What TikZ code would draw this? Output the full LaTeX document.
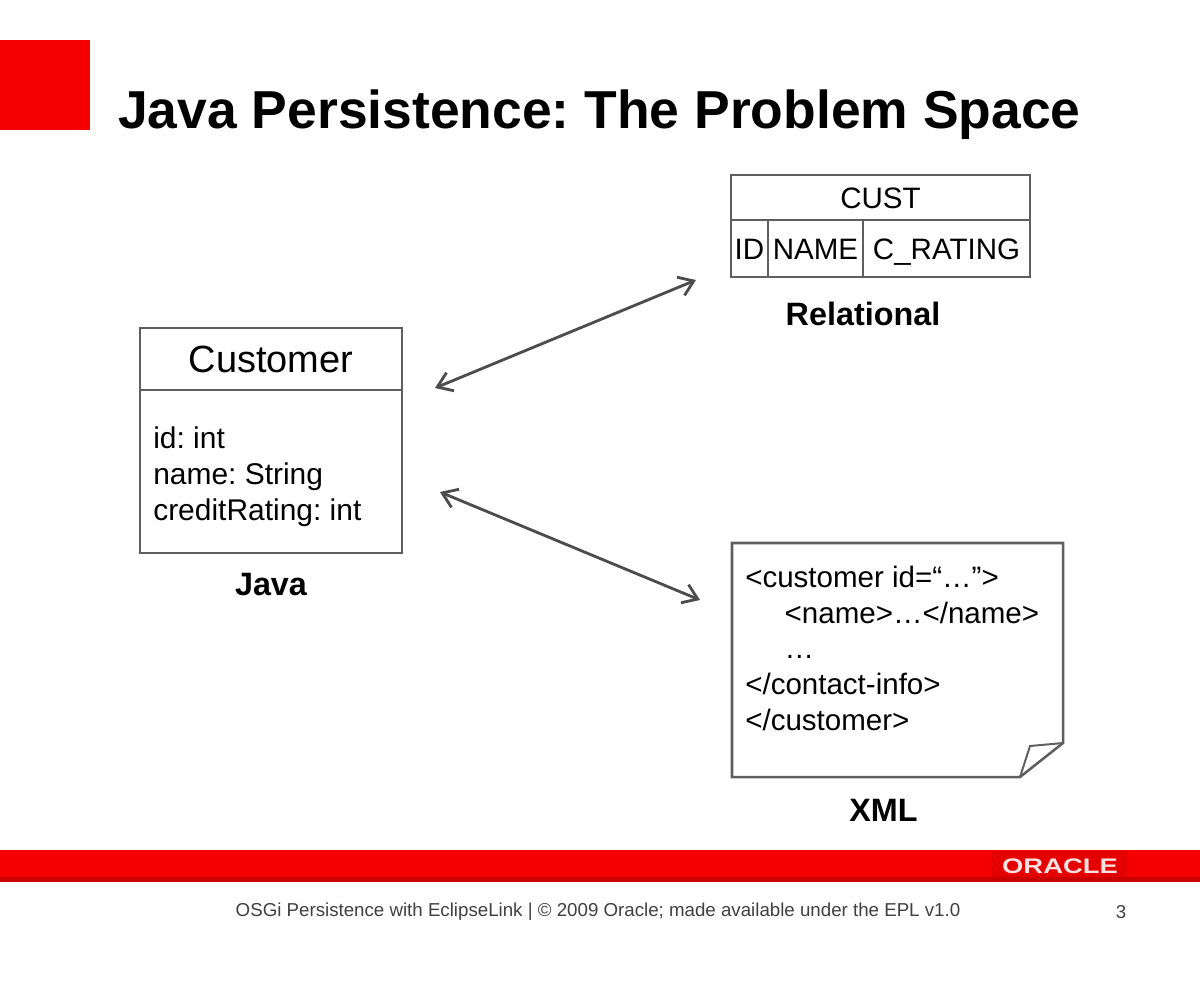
\documentclass[tikz,border=0pt]{standalone}
\usepackage{fontspec}
\setmainfont{Liberation Sans}
\usepackage{tikz}
\usetikzlibrary{calc,shapes,arrows,arrows.meta,positioning}
\newcommand{\px}{0.025cm}
\definecolor{slidered}{RGB}{245,0,0}
\definecolor{bardark}{RGB}{200,0,0}
\definecolor{boxgray}{RGB}{95,95,95}
\frenchspacing

\begin{document}
\begin{tikzpicture}[
  x=\px, y=-\px,
  boxline/.style={draw=boxgray,line width=1.8pt,outer sep=0pt},
  umlhead/.style={boxline,rectangle,anchor=north west,inner sep=0pt,
    minimum width=262*\px,minimum height=62*\px,font=\fontsize{27}{30}\selectfont},
  umlbody/.style={boxline,rectangle,anchor=north,inner sep=0pt,
    minimum width=262*\px,minimum height=163*\px},
  attrtext/.style={anchor=north west,inner sep=0pt,align=left,
    font=\fontsize{21.3}{25.6}\selectfont},
  tblhead/.style={boxline,rectangle,anchor=north west,inner sep=0pt,
    minimum width=299*\px,minimum height=45*\px,
    font=\fontsize{21}{24}\selectfont,text height=15pt,text depth=0pt},
  cell/.style={boxline,rectangle,anchor=north west,inner sep=0pt,
    minimum height=57*\px,
    font=\fontsize{21}{24}\selectfont,text height=15pt,text depth=0pt},
  caption/.style={font=\bfseries\fontsize{23}{26}\selectfont},
  duplex/.style={draw=black!70,line width=2pt,
    {Straight Barb[length=10pt,width=14pt]}-{Straight Barb[length=10pt,width=14pt]}}
]
\useasboundingbox[fill=white] (0,0) rectangle (1200,981);

% title
\fill[slidered] (0,40) rectangle (90,130);
\node[anchor=base west,inner sep=0pt,font=\bfseries\fontsize{38}{44}\selectfont]
  (title) at (118,128) {Java Persistence: The Problem Space};

% java class
\node[umlhead] (custhead) at (140,328) {Customer};
\node[umlbody] (custbody) at (custhead.south) {};
\node[attrtext] (attrs) at ($(custbody.north west)+(13,37)$)
  {id: int\\name: String\\creditRating: int};
\node[caption, below=11pt of custbody] (javalbl) {Java};

% relational table
\node[tblhead] (custtbl) at (731,175) {CUST};
\node[cell, minimum width=37*\px] (idcol) at (custtbl.south west) {ID};
\node[cell, minimum width=95*\px] (namecol) at (idcol.north east) {NAME};
\node[cell, minimum width=167*\px] (ratingcol) at (namecol.north east) {C\_RATING};
\node[caption, below=14.5pt of namecol.south east] (rellbl) {Relational};

% xml document
\node[anchor=north west,inner sep=0pt,outer sep=0pt,minimum width=331*\px,minimum height=234*\px]
  (xmldoc) at (732,543) {};
\draw[boxline,line join=miter] (xmldoc.north west) -- (xmldoc.north east)
  -- ($(xmldoc.south east)+(0,-34)$) -- ($(xmldoc.south east)+(-43,0)$)
  -- (xmldoc.south west) -- cycle;
\draw[boxline,line width=1.4pt,line join=miter] ($(xmldoc.south east)+(-43,0)$)
  -- ($(xmldoc.south east)+(-33,-31)$) -- ($(xmldoc.south east)+(0,-34)$);
\node[attrtext,font=\fontsize{21}{25.5}\selectfont] (xmlcode)
  at ($(xmldoc.north west)+(13,22.5)$)
  {<customer id=“…”>\\
   \hspace*{28pt}<name>…</name>\\
   \hspace*{28pt}…\\
   </contact-info>\\
   </customer>};
\node[caption, below=12pt of xmldoc, xshift=-14*\px] (xmllbl) {XML};

% mappings
\coordinate (relA) at ($(custbody.north east)+(33,-2)$);
\coordinate (relB) at ($(idcol.south west)+(-35,3)$);
\coordinate (xmlA) at ($(custbody.east)+(38,20.5)$);
\coordinate (xmlB) at ($(xmldoc.north west)+(-32,57)$);
\draw[duplex] (relA) -- (relB);
\draw[duplex] (xmlA) -- (xmlB);

% footer
\fill[slidered] (0,850) rectangle (1200,882);
\fill[bardark] (0,877) rectangle (1200,882);
\fill[red!90!black] (992,851) rectangle (1127,877);
\node[font=\bfseries\fontsize{15}{15}\selectfont,text=red!12] (oracle)
  at (1060,866) {\scalebox{1.3}[1]{ORACLE}};
\node[font=\fontsize{13.3}{15}\selectfont,text=black!75] (footer) at (598,912)
  {OSGi Persistence with EclipseLink | © 2009 Oracle; made available under the EPL v1.0};
\node[font=\fontsize{13.3}{15}\selectfont,text=black!75] (pageno) at (1121,912) {3};
\end{tikzpicture}
\end{document}
